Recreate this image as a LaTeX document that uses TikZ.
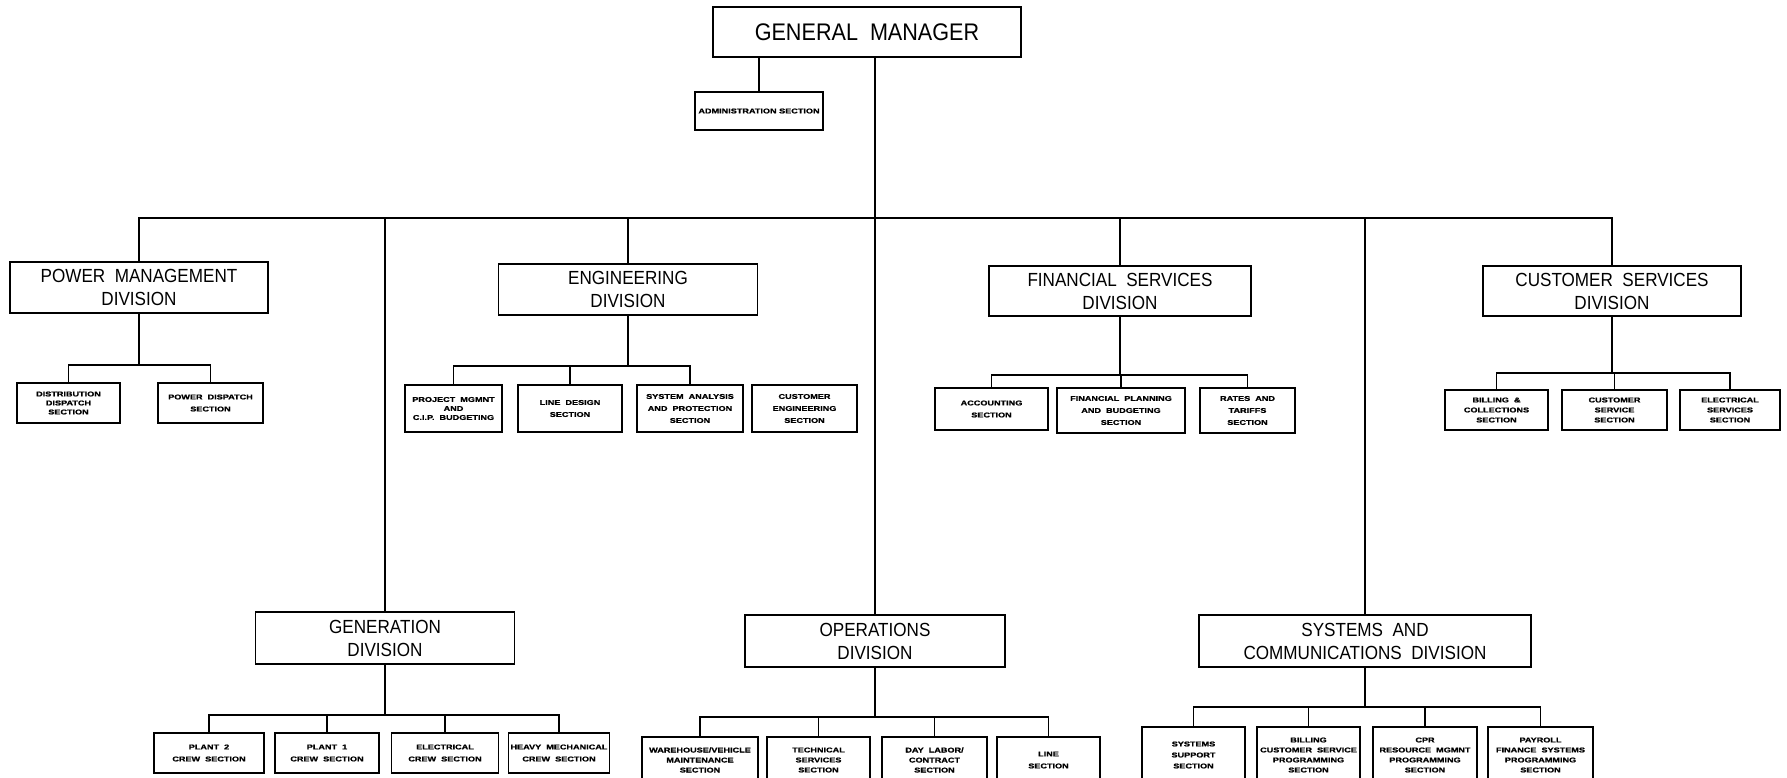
\documentclass[tikz,border=0pt]{standalone}
\usepackage{fontspec}
\setmainfont{Liberation Sans}
\newfontfamily\divfont[FakeStretch=0.9]{Liberation Sans}
\newfontfamily\sectfont[FakeStretch=1.3, FakeBold=1.2]{Liberation Sans}

\tikzset{
  div/.style={draw, line width=1.8pt, inner sep=0pt, align=center,
    font=\divfont\fontsize{19}{23}\selectfont},
  sect/.style={draw, line width=1.5pt, inner sep=0pt, align=center,
    font=\sectfont\bfseries\fontsize{7}{12}\selectfont},
  link/.style={line width=1.3pt}
}

\begin{document}
\begin{tikzpicture}[x=1pt, y=-1pt]
  \useasboundingbox (0,0) rectangle (1787,777);

   % top
  \node[div, minimum width=308pt, minimum height=50pt, font=\divfont\fontsize{24}{28}\selectfont] (gm) at (867,32) {GENERAL\ \ MANAGER};
  \node[sect, minimum width=128pt, minimum height=38pt] (adm) at (759,111) {ADMINISTRATION SECTION};
  \draw[link] (gm.south -| adm.north) -- (adm.north);

   % divisions
  \node[div, minimum width=258pt, minimum height=51pt] (pm) at (139,287.5) {POWER\ \ MANAGEMENT\\DIVISION};
  \node[div, minimum width=259pt, minimum height=51pt] (eng) at (628,289.5) {ENGINEERING\\DIVISION};
  \node[div, minimum width=262pt, minimum height=50pt] (fin) at (1120,291) {FINANCIAL\ \ SERVICES\\DIVISION};
  \node[div, minimum width=258pt, minimum height=50pt] (cust) at (1612,291) {CUSTOMER\ \ SERVICES\\DIVISION};
  \node[div, minimum width=259pt, minimum height=52pt] (gen) at (385,638) {GENERATION\\DIVISION};
  \node[div, minimum width=260pt, minimum height=52pt] (ops) at (875,641) {OPERATIONS\\DIVISION};
  \node[div, minimum width=332pt, minimum height=52pt] (sys) at (1365,641) {SYSTEMS\ \ AND\\COMMUNICATIONS\ \ DIVISION};

  \coordinate (bus) at (0,218);
  \draw[link] (gm.south -| ops.north) -- (ops.north);
  \draw[link] (pm.north) -- (pm.north |- bus) -- (cust.north |- bus) -- (cust.north);
  \foreach \d in {gen,eng,fin,sys}
    \draw[link] (\d.north) -- (\d.north |- bus);

   % power management sections
  \node[sect, minimum width=103pt, minimum height=40pt] (dd) at (68.5,403) {DISTRIBUTION\\[-3pt]DISPATCH\\[-3pt]SECTION};
  \node[sect, minimum width=105pt, minimum height=40pt] (pd) at (210.5,403) {POWER\ \ DISPATCH\\SECTION};
  \coordinate (pmbus) at (0,365);
  \draw[link] (pm.south) -- (pm.south |- pmbus);
  \draw[link] (dd.north) -- (dd.north |- pmbus) -- (pd.north |- pmbus) -- (pd.north);

   % engineering sections
  \node[sect, minimum width=97pt, minimum height=47pt] (epm) at (453.5,408.5) {PROJECT\ \ MGMNT\\[-3pt]AND\\[-3pt]C.I.P.\ \ BUDGETING};
  \node[sect, minimum width=104pt, minimum height=47pt] (eld) at (570,408.5) {LINE\ \ DESIGN\\SECTION};
  \node[sect, minimum width=106pt, minimum height=47pt] (esa) at (690,408.5) {SYSTEM\ \ ANALYSIS\\AND\ \ PROTECTION\\SECTION};
  \node[sect, minimum width=105pt, minimum height=47pt] (ece) at (804.5,408.5) {CUSTOMER\\ENGINEERING\\SECTION};
  \coordinate (engbus) at (0,366);
  \draw[link] (eng.south) -- (eng.south |- engbus);
  \draw[link] (epm.north) -- (epm.north |- engbus) -- (esa.north |- engbus) -- (esa.north);
  \draw[link] (eld.north) -- (eld.north |- engbus);

   % financial sections
  \node[sect, minimum width=113pt, minimum height=42pt] (acc) at (991.5,409) {ACCOUNTING\\SECTION};
  \node[sect, minimum width=128pt, minimum height=45pt] (ffp) at (1121,410.5) {FINANCIAL\ \ PLANNING\\AND\ \ BUDGETING\\SECTION};
  \node[sect, minimum width=95pt, minimum height=45pt] (frt) at (1247.5,410.5) {RATES\ \ AND\\TARIFFS\\SECTION};
  \coordinate (finbus) at (0,375);
  \draw[link] (fin.south) -- (fin.south |- finbus);
  \draw[link] (acc.north) -- (acc.north |- finbus) -- (frt.north |- finbus) -- (frt.north);
  \draw[link] (ffp.north) -- (ffp.north |- finbus);

   % customer sections
  \node[sect, minimum width=103pt, minimum height=40pt] (cbc) at (1496.5,410) {BILLING\ \ \&\\[-2pt]COLLECTIONS\\[-2pt]SECTION};
  \node[sect, minimum width=105pt, minimum height=40pt] (ccs) at (1614.5,410) {CUSTOMER\\[-2pt]SERVICE\\[-2pt]SECTION};
  \node[sect, minimum width=100pt, minimum height=40pt] (ces) at (1730,410) {ELECTRICAL\\[-2pt]SERVICES\\[-2pt]SECTION};
  \coordinate (cusbus) at (0,373);
  \draw[link] (cust.south) -- (cust.south |- cusbus);
  \draw[link] (cbc.north) -- (cbc.north |- cusbus) -- (ces.north |- cusbus) -- (ces.north);
  \draw[link] (ccs.north) -- (ccs.north |- cusbus);

   % generation sections
  \node[sect, minimum width=110pt, minimum height=40pt] (gp2) at (209,753) {PLANT\ \ 2\\CREW\ \ SECTION};
  \node[sect, minimum width=104pt, minimum height=40pt] (gp1) at (327,753) {PLANT\ \ 1\\CREW\ \ SECTION};
  \node[sect, minimum width=107pt, minimum height=40pt] (gel) at (445,753) {ELECTRICAL\\CREW\ \ SECTION};
  \node[sect, minimum width=101pt, minimum height=40pt] (ghm) at (559,753) {HEAVY\ \ MECHANICAL\\CREW\ \ SECTION};
  \coordinate (genbus) at (0,715);
  \draw[link] (gen.south) -- (gen.south |- genbus);
  \draw[link] (gp2.north) -- (gp2.north |- genbus) -- (ghm.north |- genbus) -- (ghm.north);
  \foreach \s in {gp1,gel}
    \draw[link] (\s.north) -- (\s.north |- genbus);

   % operations sections
  \node[sect, minimum width=116pt, minimum height=46pt] (owv) at (700,760) {WAREHOUSE/VEHICLE\\[-2pt]MAINTENANCE\\[-2pt]SECTION};
  \node[sect, minimum width=103pt, minimum height=46pt] (ots) at (818.5,760) {TECHNICAL\\[-2pt]SERVICES\\[-2pt]SECTION};
  \node[sect, minimum width=105pt, minimum height=46pt] (odl) at (934.5,760) {DAY\ \ LABOR/\\[-2pt]CONTRACT\\[-2pt]SECTION};
  \node[sect, minimum width=103pt, minimum height=46pt] (oln) at (1048.5,760) {LINE\\SECTION};
  \coordinate (opsbus) at (0,717);
  \draw[link] (ops.south) -- (ops.south |- opsbus);
  \draw[link] (owv.north) -- (owv.north |- opsbus) -- (oln.north |- opsbus) -- (oln.north);
  \foreach \s in {ots,odl}
    \draw[link] (\s.north) -- (\s.north |- opsbus);

   % systems sections
  \node[sect, minimum width=103pt, minimum height=56pt] (sss) at (1193.5,755) {SYSTEMS\\[-1pt]SUPPORT\\[-1pt]SECTION};
  \node[sect, minimum width=103pt, minimum height=56pt] (sbc) at (1308.5,755) {BILLING\\[-2pt]CUSTOMER\ \ SERVICE\\[-2pt]PROGRAMMING\\[-2pt]SECTION};
  \node[sect, minimum width=104pt, minimum height=56pt] (sor) at (1425,755) {CPR\\[-2pt]RESOURCE\ \ MGMNT\\[-2pt]PROGRAMMING\\[-2pt]SECTION};
  \node[sect, minimum width=105pt, minimum height=56pt] (spf) at (1540.5,755) {PAYROLL\\[-2pt]FINANCE\ \ SYSTEMS\\[-2pt]PROGRAMMING\\[-2pt]SECTION};
  \coordinate (sysbus) at (0,707);
  \draw[link] (sys.south) -- (sys.south |- sysbus);
  \draw[link] (sss.north) -- (sss.north |- sysbus) -- (spf.north |- sysbus) -- (spf.north);
  \foreach \s in {sbc,sor}
    \draw[link] (\s.north) -- (\s.north |- sysbus);
\end{tikzpicture}
\end{document}
